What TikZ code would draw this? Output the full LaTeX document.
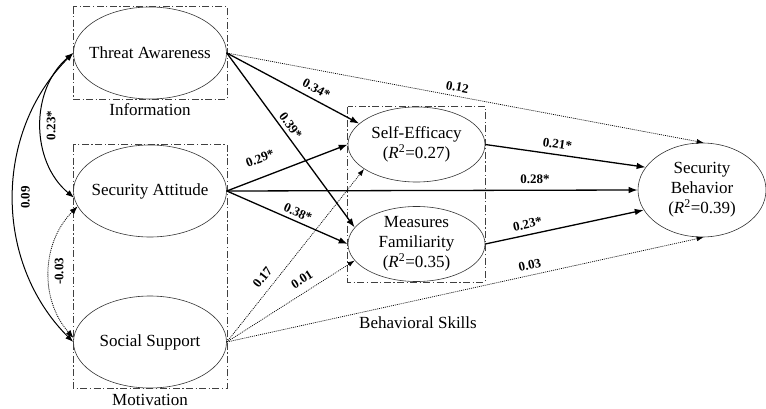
\documentclass[tikz,border=0pt]{standalone}
\usepackage{fontspec}
\setmainfont{Liberation Serif}
\usetikzlibrary{shapes.geometric,arrows.meta}

\begin{document}
\begin{tikzpicture}[x=1pt, y=-1pt, node distance=138pt,
                    main node/.style={ellipse,draw=black!80,line width=0.6pt,inner sep=-12pt,align=center,
                                      font=\fontsize{17}{20}\selectfont},
                    group box/.style={draw=black!75,line width=0.6pt,dash pattern=on 7pt off 2.5pt on 1.2pt off 2.5pt},
                    group label/.style={font=\fontsize{17}{20}\selectfont},
                    sig edge/.style={draw,line width=1.3pt,-{Latex[length=9pt,width=6.5pt]}},
                    ns edge/.style={draw,line width=0.7pt,dash pattern=on 1pt off 1pt,-{Latex[length=7pt,width=5pt]}},
                    cov edge/.style={draw,line width=1pt,{Latex[length=8pt,width=6pt]}-{Latex[length=8pt,width=6pt]}},
                    coef/.style={font=\bfseries\fontsize{13}{15}\selectfont,inner sep=1.5pt}]

  \useasboundingbox (0,0) rectangle (766,409);

  \node[main node,minimum width=153pt,minimum height=92pt] (ta) at (150,53) {Threat Awareness};
  \node[main node,minimum width=153pt,minimum height=92pt] (sa) [below of=ta] {Security Attitude};
  \node[main node,minimum width=153pt,minimum height=92pt] (ss) [below of=sa, node distance=151pt] {Social Support};
  \node[main node,minimum width=137pt,minimum height=75pt] (se) at (416.5,144.5) {Self-Efficacy\\(\textit{R}\textsuperscript{2}=0.27)};
  \node[main node,minimum width=137pt,minimum height=75pt] (mf) [below of=se, node distance=99.5pt] {Measures\\Familiarity\\(\textit{R}\textsuperscript{2}=0.35)};
  \node[main node,minimum width=128pt,minimum height=94pt] (sb) at (702,190) {Security\\Behavior\\(\textit{R}\textsuperscript{2}=0.39)};

  \draw[group box] (ta.west |- ta.north) rectangle (ta.east |- ta.south);
  \draw[group box] (sa.west |- sa.north) rectangle (ss.east |- ss.south);
  \draw[group box] (se.west |- se.north) rectangle (mf.east |- mf.south);

  \node[group label] (info) [below of=ta, node distance=57pt] {Information};
  \node[group label] (moti) [below of=ss, node distance=58pt] {Motivation};
  \node[group label] (skill) [below of=mf, node distance=79pt, xshift=1.5pt] {Behavioral Skills};

\path[every node/.style={coef}]
    (ta.east) edge[sig edge] node [sloped,above=4pt,pos=0.64] {0.34*} (se.160)
    (ta.east) edge[sig edge] node [sloped,above=2pt,pos=0.445] {0.39*} (mf.165)
    (sa.east) edge[sig edge] node [sloped,above=12pt,pos=0.33] {0.29*} (se.west)
    (sa.east) edge[sig edge] node [sloped,above=2pt,pos=0.56] {0.38*} (mf.west)
    (sa.east) edge[sig edge] node [sloped,above=4pt,pos=0.75] {0.28*} (sb.west)
     (se.east) edge[sig edge] node [sloped,above=4pt,pos=0.44] {0.21*} (sb.158)
     (mf.east) edge[sig edge] node [sloped,above=4pt,pos=0.28] {0.23*} (sb.199)
      (ta.east) edge[ns edge] node [sloped,above=3pt,pos=0.48] {0.12} (sb.88)
      (ss.east) edge[ns edge] node [sloped,above=4pt,pos=0.64] {0.03} (sb.272)
      (ss.east) edge[ns edge] node [sloped,above=6pt,pos=0.33] {0.17} (se.205)
      (ss.east) edge[ns edge] node [sloped,above=6pt,pos=0.64] {0.01} (mf.195)
    (ta.west) edge[cov edge, bend right=50] node [midway,xshift=10pt,rotate=90] {0.23*} (sa.185)
    (ta.west) edge[cov edge, bend right=45] node [midway,xshift=12pt,rotate=90] {0.09} (ss.west)
    (sa.192) edge[ns edge, line width=0.8pt, {Latex[length=8pt,width=6pt]}-{Latex[length=8pt,width=6pt]}, bend right=43]
          node [midway,xshift=10pt,rotate=90] {-0.03} (ss.177);

\end{tikzpicture}
\end{document}
